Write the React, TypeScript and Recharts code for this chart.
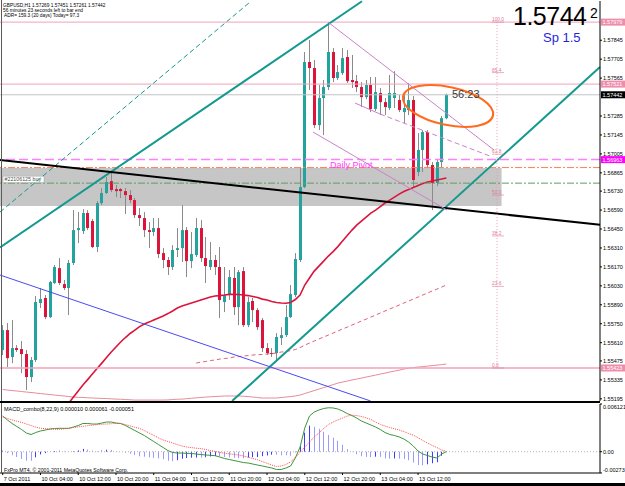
import React from "react";
import {
  ComposedChart, Bar, Line, XAxis, YAxis, ReferenceLine, ReferenceArea, ReferenceDot,
} from "recharts";

const FONT = '"Liberation Sans", Arial, sans-serif';
const BULL = "#23a39e";
const BEAR = "#dc143c";
const PINK = "#f0a3b9";
const FIB = "#e27893";
const TEAL = "#14998e";
const VIOLET = "#c983c9";

// GBPUSD H1 candles, index 0 = first visible bar (7 Oct), 94 = current bar (13 Oct 18:00)
const openP = [
  1.55556, 1.55703, 1.55504, 1.5557, 1.55563, 1.55526, 1.55356, 1.55482, 1.55903, 1.5594,
  1.55799, 1.56051, 1.56161, 1.56043, 1.56014, 1.56199, 1.56442, 1.56435, 1.56568, 1.56509,
  1.56317, 1.56642, 1.56716, 1.56804, 1.56745, 1.56745, 1.5673, 1.56701, 1.56664, 1.56553,
  1.56531, 1.56442, 1.56428, 1.56457, 1.56272, 1.56221, 1.56169, 1.56295, 1.56309, 1.56442,
  1.56213, 1.56258, 1.56457, 1.56235, 1.56169, 1.56221, 1.56169, 1.5591, 1.55962, 1.56088,
  1.55873, 1.56139, 1.5574, 1.55918, 1.55851, 1.55777, 1.5557, 1.55533, 1.55533, 1.55644,
  1.55666, 1.55799, 1.55962, 1.56221, 1.5676, 1.57684, 1.5764, 1.57218, 1.57418, 1.57499,
  1.57758, 1.57566, 1.57603, 1.57721, 1.57551, 1.57543, 1.57499, 1.57425, 1.57514, 1.57337,
  1.57455, 1.57388, 1.57344, 1.57418, 1.57403, 1.57314, 1.57329, 1.57403, 1.56871, 1.57034,
  1.57167, 1.56923, 1.5679, 1.56945, 1.57269,
];
const highP = [
  1.5574, 1.55755, 1.55777, 1.55592, 1.55622, 1.55556, 1.55504, 1.55955, 1.56014, 1.55962,
  1.56066, 1.56184, 1.56235, 1.56073, 1.56221, 1.5659, 1.56575, 1.56597, 1.5659, 1.56524,
  1.56657, 1.56753, 1.56834, 1.56871, 1.56775, 1.56753, 1.56753, 1.56738, 1.56679, 1.56605,
  1.56575, 1.56501, 1.56531, 1.56531, 1.56309, 1.56243, 1.56331, 1.56457, 1.56627, 1.56464,
  1.56428, 1.56531, 1.56516, 1.56391, 1.56354, 1.56258, 1.56317, 1.56169, 1.56147, 1.56169,
  1.56147, 1.56169, 1.55947, 1.5594, 1.55866, 1.55792, 1.55607, 1.5557, 1.55681, 1.55725,
  1.55888, 1.56036, 1.56272, 1.56908, 1.57758, 1.57846, 1.57699, 1.57514, 1.57551, 1.57979,
  1.57787, 1.57662, 1.57787, 1.57773, 1.57736, 1.57588, 1.57536, 1.57551, 1.57573, 1.57573,
  1.57492, 1.57418, 1.57588, 1.57617, 1.5744, 1.5744, 1.57529, 1.57433, 1.57159, 1.57181,
  1.57181, 1.56945, 1.5696, 1.57285, 1.57451,
];
const lowP = [
  1.55519, 1.5543, 1.55459, 1.55541, 1.55385, 1.5526, 1.55319, 1.55467, 1.55866, 1.55784,
  1.55792, 1.56043, 1.56036, 1.55999, 1.55814, 1.56184, 1.56346, 1.56413, 1.56442, 1.56309,
  1.5628, 1.56627, 1.56708, 1.56723, 1.56686, 1.56679, 1.56561, 1.56642, 1.56531, 1.56472,
  1.56391, 1.56309, 1.56398, 1.56235, 1.56161, 1.5611, 1.56147, 1.56243, 1.56206, 1.56095,
  1.56161, 1.56243, 1.56206, 1.56051, 1.56147, 1.5611, 1.55792, 1.55836, 1.55925, 1.55814,
  1.5574, 1.55725, 1.55725, 1.55762, 1.55703, 1.55541, 1.55519, 1.55504, 1.55467, 1.55592,
  1.55652, 1.55792, 1.55947, 1.56206, 1.56753, 1.57477, 1.57196, 1.57181, 1.57144, 1.57477,
  1.57536, 1.57551, 1.57588, 1.57529, 1.57492, 1.57462, 1.57351, 1.5741, 1.57314, 1.57322,
  1.57292, 1.57292, 1.57329, 1.57344, 1.57314, 1.57233, 1.57292, 1.56753, 1.56841, 1.56871,
  1.569, 1.5659, 1.56767, 1.569, 1.57261,
];
const closeP = [
  1.55703, 1.55496, 1.5557, 1.55556, 1.55526, 1.55356, 1.55482, 1.5591, 1.55932, 1.55799,
  1.56058, 1.56169, 1.56051, 1.56014, 1.56199, 1.56442, 1.56457, 1.56568, 1.56457, 1.56317,
  1.56642, 1.56716, 1.56797, 1.56738, 1.5673, 1.5673, 1.56701, 1.56664, 1.56553, 1.56531,
  1.56442, 1.56428, 1.56457, 1.56265, 1.56221, 1.56169, 1.56295, 1.56309, 1.56442, 1.56213,
  1.56265, 1.56457, 1.56235, 1.56176, 1.56221, 1.56169, 1.55925, 1.55962, 1.56095, 1.55873,
  1.56132, 1.5574, 1.5591, 1.55851, 1.55725, 1.5557, 1.55533, 1.55526, 1.55652, 1.55666,
  1.55799, 1.55969, 1.56228, 1.5676, 1.57684, 1.5764, 1.57218, 1.57418, 1.57499, 1.57758,
  1.57566, 1.5761, 1.57713, 1.57543, 1.57536, 1.57499, 1.57425, 1.57514, 1.57337, 1.57462,
  1.57388, 1.57351, 1.57455, 1.57455, 1.57329, 1.57344, 1.57403, 1.56812, 1.57034, 1.57167,
  1.56923, 1.5679, 1.56945, 1.57269, 1.57442,
];

// moving averages (fast solid, dashed, slow thin); each starts at its own bar index
const maFastStart = 13;
const maFast = [
  1.55112, 1.55164, 1.55208, 1.55253, 1.55297, 1.55337, 1.55378, 1.55419, 1.55459, 1.555,
  1.55541, 1.55578, 1.55615, 1.55648, 1.55678, 1.55703, 1.55729, 1.55748, 1.55762, 1.55777,
  1.55792, 1.55807, 1.55825, 1.55844, 1.55866, 1.55881, 1.55892, 1.55903, 1.55914, 1.55925,
  1.55936, 1.55947, 1.55955, 1.55958, 1.55962, 1.55967, 1.55967, 1.55966, 1.55962, 1.55958,
  1.55951, 1.55944, 1.55932, 1.55925, 1.55914, 1.55907, 1.55903, 1.55901, 1.55907, 1.55929,
  1.55962, 1.56036, 1.56088, 1.56139, 1.56176, 1.56213, 1.5625, 1.56283, 1.5632, 1.56361,
  1.56402, 1.56442, 1.56479, 1.56509, 1.56538, 1.56568, 1.5659, 1.56616, 1.56642, 1.56664,
  1.56686, 1.56708, 1.56727, 1.56742, 1.56756, 1.56771, 1.56786, 1.56797, 1.56804, 1.56812,
  1.56819, 1.56827,
];
const maDashStart = 41;
const maDash = [
  1.55459, 1.55467, 1.55471, 1.55478, 1.55482, 1.55489, 1.55493, 1.55496, 1.55504, 1.55508,
  1.55511, 1.55515, 1.55519, 1.55522, 1.55522, 1.55526, 1.5553, 1.55533, 1.55541, 1.55544,
  1.55552, 1.55559, 1.55574, 1.55592, 1.55607, 1.55622, 1.55637, 1.55652, 1.55666, 1.55681,
  1.55696, 1.55711, 1.55725, 1.5574, 1.55755, 1.5577, 1.55784, 1.55799, 1.55814, 1.55829,
  1.55844, 1.55859, 1.55873, 1.55888, 1.55903, 1.55918, 1.55932, 1.55947, 1.55962, 1.55977,
  1.55992, 1.56006, 1.56021, 1.56036,
];
const maSlow = [
  1.55264, 1.5526, 1.55256, 1.55253, 1.55249, 1.55245, 1.55242, 1.55238, 1.55234, 1.5523,
  1.55227, 1.55223, 1.55219, 1.55216, 1.55212, 1.55208, 1.55206, 1.55205, 1.55203, 1.55201,
  1.552, 1.55198, 1.55197, 1.55195, 1.55193, 1.55192, 1.5519, 1.55188, 1.55186, 1.55186,
  1.55186, 1.55186, 1.55186, 1.55186, 1.55186, 1.55187, 1.5519, 1.55192, 1.55193, 1.55196,
  1.55199, 1.55202, 1.55205, 1.55208, 1.5521, 1.55212, 1.55214, 1.55216, 1.55216, 1.55216,
  1.55216, 1.55214, 1.55212, 1.55208, 1.55205, 1.55201, 1.55201, 1.55201, 1.55201, 1.55205,
  1.55208, 1.55212, 1.55216, 1.55223, 1.55234, 1.55245, 1.55256, 1.55267, 1.55278, 1.55289,
  1.553, 1.55311, 1.55319, 1.55326, 1.55334, 1.55341, 1.55348, 1.55356, 1.55363, 1.5537,
  1.55378, 1.55385, 1.55393, 1.554, 1.55407, 1.55415, 1.55422, 1.55426, 1.5543, 1.55433,
  1.55437, 1.55441, 1.55444, 1.55448, 1.55452,
];

// MACD_combo(8,22,9)
const macdMain = [
  0.00458, 0.00407, 0.00362, 0.00323, 0.00285, 0.0024, 0.00221, 0.00246, 0.00266, 0.00278,
  0.00291, 0.00298, 0.003, 0.003, 0.003, 0.00317, 0.00336, 0.00362, 0.00362, 0.00355,
  0.00355, 0.00368, 0.00381, 0.00381, 0.00368, 0.00362, 0.00336, 0.00304, 0.00272, 0.0024,
  0.00208, 0.00169, 0.00131, 0.00092, 0.00054, 0.00015, -0.0001, -0.00017, -0.00017, -0.00021,
  -0.00023, -0.0003, -0.00036, -0.00042, -0.00046, -0.00051, -0.00068, -0.00087, -0.001, -0.00113,
  -0.00126, -0.00139, -0.00145, -0.00158, -0.00171, -0.00183, -0.00196, -0.00209, -0.00228, -0.00228,
  -0.00209, -0.00183, -0.00081, 0.0006, 0.00304, 0.00458, 0.00509, 0.00535, 0.00554, 0.00564,
  0.00561, 0.00548, 0.00522, 0.0049, 0.00464, 0.00432, 0.00394, 0.00368, 0.00343, 0.00317,
  0.00285, 0.00246, 0.00221, 0.00208, 0.00189, 0.00163, 0.00124, 0.00073, 0.00009, -0.0003,
  -0.00049, -0.00068, -0.00081, -0.0003, 0.00001,
];
const macdSignal = [
  0.00445, 0.00426, 0.00407, 0.00391, 0.00377, 0.00355, 0.00336, 0.00317, 0.003, 0.00296,
  0.00291, 0.00289, 0.00287, 0.00294, 0.00301, 0.0031, 0.00319, 0.00326, 0.00334, 0.0034,
  0.00348, 0.00353, 0.00355, 0.00359, 0.00363, 0.00362, 0.00349, 0.0033, 0.00313, 0.00299,
  0.00272, 0.0024, 0.0021, 0.00178, 0.0015, 0.00131, 0.00112, 0.00092, 0.00073, 0.0006,
  0.00053, 0.00045, 0.0004, 0.00028, 0.00015, 0.00004, -0.0001, -0.00019, -0.00027, -0.00035,
  -0.00042, -0.00055, -0.00071, -0.00087, -0.00103, -0.00126, -0.00148, -0.00171, -0.0019, -0.00183,
  -0.00164, -0.00132, -0.00074, -0.0001, 0.0006, 0.00124, 0.00189, 0.0024, 0.00298, 0.00349,
  0.00381, 0.00407, 0.00432, 0.00458, 0.00468, 0.00464, 0.00452, 0.00435, 0.00413, 0.00381,
  0.00351, 0.0033, 0.0031, 0.00294, 0.00278, 0.00257, 0.00233, 0.00212, 0.0018, 0.00144,
  0.00112, 0.0008, 0.00054, 0.00022, 0.00006,
];
const macdHist = [
  0.00013, -0.00019, -0.00045, -0.00068, -0.00092, -0.00115, -0.00115, -0.00071, -0.00034, -0.00018,
  0.0, 0.00009, 0.00013, 0.00006, -0.00001, 0.00007, 0.00017, 0.00036, 0.00028, 0.00015,
  0.00007, 0.00015, 0.00026, 0.00022, 0.00005, 0.0, -0.00013, -0.00026, -0.00041, -0.00059,
  -0.00064, -0.00071, -0.00079, -0.00086, -0.00096, -0.00116, -0.00122, -0.00109, -0.0009, -0.00081,
  -0.00076, -0.00075, -0.00076, -0.0007, -0.00061, -0.00055, -0.00058, -0.00068, -0.00073, -0.00078,
  -0.00084, -0.00084, -0.00074, -0.00071, -0.00068, -0.00057, -0.00048, -0.00038, -0.00038, -0.00045,
  -0.00045, -0.00051, -0.00007, 0.0007, 0.00244, 0.00334, 0.0032, 0.00295, 0.00256, 0.00215,
  0.0018, 0.00141, 0.0009, 0.00032, -0.00004, -0.00032, -0.00058, -0.00067, -0.0007, -0.00064,
  -0.00066, -0.00084, -0.00089, -0.00086, -0.00089, -0.00094, -0.00109, -0.00139, -0.00171, -0.00174,
  -0.00161, -0.00148, -0.00135, -0.00052, -0.00005,
];

const xTickIdx = [0, 8, 16, 24, 32, 40, 48, 56, 64, 72, 80, 88];
const xTickLabels = [
  "7 Oct 2011", "10 Oct 04:00", "10 Oct 12:00", "10 Oct 20:00", "11 Oct 04:00", "11 Oct 12:00",
  "11 Oct 20:00", "12 Oct 04:00", "12 Oct 12:00", "12 Oct 20:00", "13 Oct 04:00", "13 Oct 12:00",
];
// 1.57985 and 1.57425 sit under the coloured price tags, so they are left out
const priceTicks = [
  1.57845, 1.57705, 1.57565, 1.57285, 1.57145, 1.57005, 1.56865, 1.5673,
  1.5659, 1.5645, 1.5631, 1.5617, 1.5603, 1.5589, 1.5575, 1.5561, 1.55475, 1.55335, 1.55195,
];
const macdTicks = [0.006121, 0, -0.00273];

// horizontal levels
const fibHigh = 1.57979;
const resLine = 1.57521;
const bidPrice = 1.57442;
const dailyPivot = 1.56963;
const openLine = 1.56904;
const orderLine = 1.56789;
const fibLow = 1.55423;
const zoneLow = 1.5662;
const zoneHigh = 1.569;
const fibLevels = ["100.0", "85.4", "61.8", "50.0", "38.2", "23.6", "0.0"];
const fibPrices = [1.57979, 1.57606, 1.57003, 1.56701, 1.56399, 1.56026, 1.55423];

// trend lines as [bar index, price] end points
const tealUpper = [[-0.57, 1.56314], [76.12, 1.58133]];
const tealLower = [[48.6, 1.55179], [126.55, 1.57647]];
const tealThin = [[-0.57, 1.56575], [52.6, 1.58133]];
const blackLine = [[-0.57, 1.5696], [126.55, 1.56481]];
const blueLine = [[-0.57, 1.5611], [77.95, 1.55179]];
const violetTop = [[68.92, 1.57979], [104.1, 1.57034]];
const violetLow = [[65.74, 1.57167], [94.13, 1.5659]];
const violetMid = [[74.64, 1.57381], [79.94, 1.573]];
const violetMidExt = [[79.94, 1.573], [103.24, 1.56989]];

const X_DOMAIN = [-0.57, 126.55];
const Y_DOMAIN = [1.55179, 1.58135];

const rows = openP.map((o, i) => ({
  i,
  o,
  h: highP[i],
  l: lowP[i],
  c: closeP[i],
  range: [lowP[i], highP[i]],
  ma1: i >= maFastStart ? maFast[i - maFastStart] : null,
  ma2: i >= maDashStart ? maDash[i - maDashStart] : null,
  ma3: maSlow[i],
  macd: macdMain[i],
  sig: macdSignal[i],
  hist: macdHist[i],
}));

const seg = (p: number[][]) => [{ x: p[0][0], y: p[0][1] }, { x: p[1][0], y: p[1][1] }];

const Candle = (p: any) => {
  const { x, y, width, height, payload } = p;
  if (!payload || height == null) return null;
  const top = height < 0 ? y + height : y;
  const hh = Math.abs(height);
  const { o, h, l, c } = payload;
  const span = h - l;
  const toY = (v: number) => (span > 0 ? top + ((h - v) / span) * hh : top);
  const cx = Math.floor(x + width / 2) + 0.5;
  const bTop = toY(Math.max(o, c));
  const bBot = toY(Math.min(o, c));
  return (
    <g>
      <line x1={cx} x2={cx} y1={top} y2={top + hh} stroke="#8a8a8a" strokeWidth={1} />
      <rect x={cx - 1.5} y={bTop} width={3} height={Math.max(bBot - bTop, 1)} fill={c >= o ? BULL : BEAR} />
    </g>
  );
};

const HistBar = (p: any) => {
  const { x, y, width, height, payload } = p;
  if (!payload || !height) return null;
  const top = height < 0 ? y + height : y;
  const prev = payload.i > 0 ? macdHist[payload.i - 1] : 0;
  return (
    <rect x={Math.floor(x + width / 2)} y={top} width={1} height={Math.abs(height)}
      fill={payload.hist > prev ? "#3c3cff" : "#9a9aff"} />
  );
};

const axisTag = (text: string, bg: string) => (props: any) => {
  const vb = props.viewBox || {};
  const x = (vb.x || 0) + (vb.width || 0) + 1;
  const y = vb.y || 0;
  return (
    <g>
      <rect x={x} y={y - 3.5} width={24} height={7} fill={bg} />
      <text x={x + 1.5} y={y + 2} fontSize={5.5} fill="#fff" fontFamily={FONT}>{text}</text>
    </g>
  );
};

const orderTag = (props: any) => {
  const vb = props.viewBox || {};
  return (
    <g>
      <rect x={vb.x + 3} y={vb.y - 7} width={41} height={6.5} fill="#fff" stroke="#a0a0a0" strokeWidth={0.5} />
      <text x={vb.x + 4.5} y={vb.y - 2} fontSize={5.3} fill="#505050" fontFamily={FONT}>#22106125 buy</text>
    </g>
  );
};

const XTick = (p: any) => {
  const { x, y, payload } = p;
  const k = xTickIdx.indexOf(payload.value);
  return (
    <text x={x + 1} y={y + 5.5} fontSize={5.5} fill="#000" fontFamily={FONT}>{xTickLabels[k]}</text>
  );
};

const MacdTick = (p: any) => {
  const { x, y, payload } = p;
  const v = payload.value;
  const text = v === 0 ? "0.00" : v > 0 ? "0.006121" : "-0.00273";
  const dy = v === 0 ? 2.2 : v > 0 ? 4.5 : -1;
  return <text x={x} y={y + dy} fontSize={5.5} fill="#000" fontFamily={FONT}>{text}</text>;
};

export default function App() {
  return (
    <div style={{ position: "absolute", left: 0, top: 0, width: 625, height: 486, background: "#fff", overflow: "hidden", fontFamily: FONT }}>
      <div style={{ position: "absolute", left: 0, top: 0 }}>
        <ComposedChart width={625} height={401} data={rows} margin={{ top: 1, right: 0, bottom: 0, left: 0 }}>
          <XAxis type="number" dataKey="i" domain={X_DOMAIN} hide allowDataOverflow />
          <YAxis orientation="right" width={25} domain={Y_DOMAIN} allowDataOverflow ticks={priceTicks} interval={0}
            tickSize={2} tickMargin={1} tickFormatter={(v: number) => v.toFixed(5)}
            tick={{ fontSize: 5.5, fill: "#000", fontFamily: FONT }}
            axisLine={{ stroke: "#000" }} tickLine={{ stroke: "#000" }} />
          <ReferenceArea x1={-0.57} x2={105.7} y1={zoneLow} y2={zoneHigh} fill="#c6c6c6" fillOpacity={1} stroke="none" />
          <Bar dataKey="range" barSize={3} isAnimationActive={false} shape={(p: any) => <Candle {...p} />} />
          <Line dataKey="ma3" stroke="#e8899d" strokeWidth={1} dot={false} isAnimationActive={false} />
          <Line dataKey="ma2" stroke="#e0607a" strokeWidth={1} strokeDasharray="4 3" dot={false} isAnimationActive={false} />
          <Line dataKey="ma1" stroke={BEAR} strokeWidth={1.6} dot={false} isAnimationActive={false} />

          <ReferenceLine y={fibHigh} stroke={PINK} label={axisTag("1.57979", "#ee8dab")} />
          <ReferenceLine y={resLine} stroke={PINK} label={axisTag("1.57521", "#ee8dab")} />
          <ReferenceLine y={bidPrice} stroke="#c4c4c4" label={axisTag("1.57442", "#000")} />
          <ReferenceLine y={dailyPivot} stroke="#ff80ff" strokeWidth={1.5} strokeDasharray="9 4" label={axisTag("1.56963", "#ff00ff")} />
          <ReferenceLine y={openLine} stroke="#ff7f50" strokeDasharray="7 2 2 2" />
          <ReferenceLine y={orderLine} stroke="#5e9e5e" strokeDasharray="7 2 2 2" label={orderTag} />
          <ReferenceLine y={fibLow} stroke={PINK} strokeWidth={1.5} label={axisTag("1.55423", "#ee8dab")} />

          <ReferenceLine segment={seg(tealUpper)} stroke={TEAL} strokeWidth={2} ifOverflow="visible" />
          <ReferenceLine segment={seg(tealLower)} stroke={TEAL} strokeWidth={2} ifOverflow="visible" />
          <ReferenceLine segment={seg(tealThin)} stroke={TEAL} strokeWidth={1} strokeDasharray="5 3" ifOverflow="visible" />
          <ReferenceLine segment={seg(blackLine)} stroke="#000" strokeWidth={2} ifOverflow="visible" />
          <ReferenceLine segment={seg(blueLine)} stroke="#4a4af0" strokeWidth={1} ifOverflow="visible" />
          <ReferenceLine segment={seg(violetTop)} stroke={VIOLET} strokeWidth={1} ifOverflow="visible" />
          <ReferenceLine segment={seg(violetLow)} stroke={VIOLET} strokeWidth={1} ifOverflow="visible" />
          <ReferenceLine segment={seg(violetMid)} stroke={VIOLET} strokeWidth={1} ifOverflow="visible" />
          <ReferenceLine segment={seg(violetMidExt)} stroke={VIOLET} strokeWidth={1} strokeDasharray="5 3" ifOverflow="visible" />
          <ReferenceLine segment={[{ x: 104.73, y: fibHigh }, { x: 104.73, y: fibLow }]} stroke="#e3a1b4" strokeDasharray="1 2" ifOverflow="visible" />

          {fibLevels.map((lv, k) => (
            <ReferenceDot key={lv} x={103.67} y={fibPrices[k]} r={0} ifOverflow="visible"
              shape={(p: any) => (
                <g>
                  <line x1={p.cx} x2={p.cx + 12} y1={p.cy} y2={p.cy} stroke={FIB} strokeWidth={0.6} />
                  <text x={p.cx} y={p.cy - 1} fontSize={4.8} fill={FIB} fontFamily={FONT}>{lv}</text>
                </g>
              )} />
          ))}
          <ReferenceDot x={94.35} y={1.57359} r={0} ifOverflow="visible"
            shape={(p: any) => (
              <ellipse cx={p.cx} cy={p.cy} rx={46} ry={19} fill="none" stroke="#ff6a1e" strokeWidth={2}
                transform={`rotate(12 ${p.cx} ${p.cy})`} />
            )} />
          <ReferenceDot x={95.19} y={bidPrice} r={0} ifOverflow="visible"
            shape={(p: any) => (
              <text x={p.cx} y={p.cy + 2.8} fontSize={11} fill="#3a3a3a" fontFamily={FONT}>56:23</text>
            )} />
          <ReferenceDot x={69.34} y={dailyPivot} r={0} ifOverflow="visible"
            shape={(p: any) => (
              <text x={p.cx} y={p.cy + 8} fontSize={9} fill="#ff3cff" fontFamily={FONT}>Daily Pivot</text>
            )} />
        </ComposedChart>
      </div>

      <div style={{ position: "absolute", left: 0, top: 402 }}>
        <ComposedChart width={625} height={81} data={rows} margin={{ top: 2, right: 0, bottom: 0, left: 0 }}>
          <XAxis type="number" dataKey="i" domain={X_DOMAIN} allowDataOverflow ticks={xTickIdx} interval={0}
            height={10} tickSize={2} tickMargin={0} tick={<XTick />}
            axisLine={{ stroke: "#000" }} tickLine={{ stroke: "#000" }} />
          <YAxis orientation="right" width={25} domain={[-0.00273, 0.006121]} allowDataOverflow ticks={macdTicks}
            interval={0} tickSize={2} tickMargin={1} tick={<MacdTick />}
            axisLine={{ stroke: "#000" }} tickLine={{ stroke: "#000" }} />
          <ReferenceLine y={0} stroke="#b4b4b4" strokeDasharray="1 2" />
          <Bar dataKey="hist" barSize={1} isAnimationActive={false} shape={(p: any) => <HistBar {...p} />} />
          <Line dataKey="macd" stroke="#3c963c" strokeWidth={1} dot={false} isAnimationActive={false} />
          <Line dataKey="sig" stroke="#ff4d4d" strokeWidth={1} strokeDasharray="1 1" dot={false} isAnimationActive={false} />
        </ComposedChart>
      </div>

      <svg width={625} height={486} style={{ position: "absolute", left: 0, top: 0, pointerEvents: "none" }}>
        <line x1={1.5} x2={1.5} y1={0} y2={473} stroke="#5a5a5a" />
        <rect x={0} y={401} width={600} height={2} fill="#000" />
        <rect x={0} y={483} width={625} height={3} fill="#000" />
        <g fontFamily={FONT} fill="#000">
          <text x={3} y={7.2} fontSize={4.8}>GBPUSD,H1  1.57269 1.57451 1.57261 1.57442</text>
          <text x={3} y={11.9} fontSize={4.8}>56 minutes 23 seconds left to bar end</text>
          <text x={4} y={16.6} fontSize={4.8}>ADR= 159.3  (20 days) Today= 97.3</text>
          <text x={513} y={24.5} fontSize={25} letterSpacing={-0.5}>1.5744</text>
          <text x={590} y={17.5} fontSize={14}>2</text>
          <text x={543} y={42} fontSize={13} fill="#1f1fe0">Sp 1.5</text>
          <text x={4} y={411} fontSize={5.5}>MACD_combo(8,22,9) 0.000010 0.000061 -0.000051</text>
          <text x={4} y={471.5} fontSize={5.2}>FxPro MT4, © 2001-2011 MetaQuotes Software Corp.</text>
        </g>
      </svg>
    </div>
  );
}
